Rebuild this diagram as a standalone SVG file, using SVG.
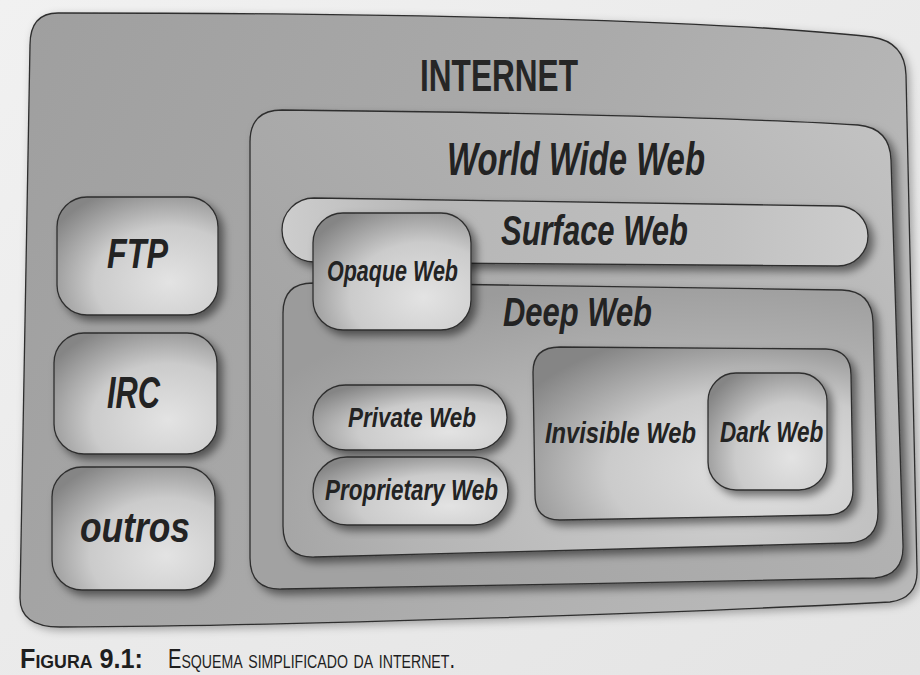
<svg xmlns="http://www.w3.org/2000/svg" width="920" height="675" viewBox="0 0 920 675">
  <defs>
    <linearGradient id="paper" x1="0" y1="0" x2="1" y2="1">
      <stop offset="0" stop-color="#f1f1f1"/>
      <stop offset="1" stop-color="#e4e4e4"/>
    </linearGradient>
    <linearGradient id="gInternet" x1="0" y1="0" x2="1" y2="0.3">
      <stop offset="0" stop-color="#9f9f9f"/>
      <stop offset="0.6" stop-color="#aaaaaa"/>
      <stop offset="1" stop-color="#b8b8b8"/>
    </linearGradient>
    <linearGradient id="gWWW" x1="0" y1="0.6" x2="1" y2="0">
      <stop offset="0" stop-color="#a2a2a2"/>
      <stop offset="0.6" stop-color="#b2b2b2"/>
      <stop offset="1" stop-color="#c4c4c4"/>
    </linearGradient>
    <linearGradient id="gSurface" x1="0" y1="0" x2="1" y2="0">
      <stop offset="0" stop-color="#cdcdcd"/>
      <stop offset="0.25" stop-color="#b6b6b6"/>
      <stop offset="0.75" stop-color="#c0c0c0"/>
      <stop offset="1" stop-color="#cdcdcd"/>
    </linearGradient>
    <radialGradient id="gDeep" cx="0.75" cy="0.85" r="0.9">
      <stop offset="0" stop-color="#cdcdcd"/>
      <stop offset="0.6" stop-color="#b4b4b4"/>
      <stop offset="1" stop-color="#9b9b9b"/>
    </radialGradient>
    <radialGradient id="gBox" cx="0.7" cy="0.72" r="0.85">
      <stop offset="0" stop-color="#e3e3e3"/>
      <stop offset="0.55" stop-color="#cbcbcb"/>
      <stop offset="1" stop-color="#858585"/>
    </radialGradient>
    <filter id="shadow" x="-10%" y="-10%" width="125%" height="130%">
      <feDropShadow dx="5" dy="5" stdDeviation="4" flood-color="#000" flood-opacity="0.5"/>
    </filter>
    <filter id="softShadow" x="-5%" y="-5%" width="115%" height="115%">
      <feDropShadow dx="3" dy="3" stdDeviation="4" flood-color="#000" flood-opacity="0.3"/>
    </filter>
  </defs>
  <style>
    .edge { stroke: #2e2e2e; stroke-width: 1.3; }
    .box { fill: url(#gBox); filter: url(#shadow); }
    .lbl { font-family: "Liberation Sans Narrow", "Liberation Sans", Arial, sans-serif; font-weight: bold; font-style: italic; fill: #232323; }
    .title { font-family: "Liberation Sans Narrow", "Liberation Sans", Arial, sans-serif; font-weight: bold; fill: #262626; }
    .cap { font-family: "Liberation Sans Narrow", "Liberation Sans", Arial, sans-serif; font-variant: small-caps; font-size: 27px; fill: #1e1e1e; }
  </style>

  <!-- page -->
  <rect x="0" y="0" width="920" height="675" fill="url(#paper)"/>

  <!-- Internet container -->
  <g id="internet">
    <path class="edge" fill="url(#gInternet)" filter="url(#softShadow)"
          d="M 58,13 C 400,13 720,20 872,37 Q 905,42 906,75 L 917,570 Q 918,598 890,602 C 700,612 300,626 60,627 Q 20,627 20,598 L 30,45 Q 30,13 58,13 Z"/>
    <text class="title" x="420" y="91" font-size="44" textLength="158" lengthAdjust="spacingAndGlyphs">INTERNET</text>
  </g>

  <!-- World Wide Web -->
  <g id="www">
    <path class="edge" fill="url(#gWWW)" filter="url(#shadow)"
          d="M 282,110 C 500,112 750,118 858,125 Q 890,128 891,160 L 903,545 Q 904,575 875,578 C 700,582 450,586 282,589 Q 250,590 250,558 L 250,142 Q 250,110 282,110 Z"/>
    <text class="lbl" x="447" y="175" font-size="46" textLength="258" lengthAdjust="spacingAndGlyphs">World Wide Web</text>
  </g>

  <!-- Surface Web -->
  <g id="surface-web">
    <path class="edge" fill="url(#gSurface)" filter="url(#shadow)"
          d="M 314,198 L 838,206 A 30,30 0 0 1 838,266 L 314,262 A 32,32 0 0 1 314,198 Z"/>
    <text class="lbl" x="501" y="245" font-size="43" textLength="187" lengthAdjust="spacingAndGlyphs">Surface Web</text>
  </g>

  <!-- Deep Web -->
  <g id="deep-web">
    <path class="edge" fill="url(#gDeep)" filter="url(#shadow)"
          d="M 313,283 C 500,284 700,287 842,290 Q 872,291 873,322 L 878,512 Q 878,542 848,543 C 700,547 500,552 315,557 Q 283,558 283,526 L 283,313 Q 283,283 313,283 Z"/>
    <text class="lbl" x="503" y="326" font-size="41" textLength="149" lengthAdjust="spacingAndGlyphs">Deep Web</text>
  </g>

  <!-- Private Web -->
  <g id="private-web">
    <rect class="box edge" x="313" y="385" width="194" height="65" rx="32.5"/>
    <text class="lbl" x="348" y="427" font-size="28" textLength="128" lengthAdjust="spacingAndGlyphs">Private Web</text>
  </g>

  <!-- Proprietary Web -->
  <g id="proprietary-web">
    <rect class="box edge" x="313" y="457" width="195" height="68" rx="34"/>
    <text class="lbl" x="325" y="500" font-size="29" textLength="173" lengthAdjust="spacingAndGlyphs">Proprietary Web</text>
  </g>

  <!-- Invisible Web -->
  <g id="invisible-web">
    <path class="box edge"
          d="M 560,347 L 826,349 Q 851,350 851,375 L 853,490 Q 853,514 828,515 L 560,520 Q 535,520 535,495 L 533,372 Q 533,347 560,347 Z"/>
    <text class="lbl" transform="translate(545,443) scale(0.79,1)" x="0" y="0" font-size="30">Invisible Web</text>
  </g>

  <!-- Dark Web -->
  <g id="dark-web">
    <rect class="box edge" x="708" y="373" width="119" height="117" rx="28"/>
    <text class="lbl" transform="translate(720,442) scale(0.75,1)" x="0" y="0" font-size="30">Dark Web</text>
  </g>

  <!-- Opaque Web (overlaps Surface and Deep Web) -->
  <g id="opaque-web">
    <rect class="box edge" x="313" y="213" width="158" height="117" rx="30"/>
    <text class="lbl" x="327" y="281" font-size="29" textLength="131" lengthAdjust="spacingAndGlyphs">Opaque Web</text>
  </g>

  <!-- other protocols -->
  <g id="ftp">
    <rect class="box edge" x="57" y="197" width="161" height="118" rx="30"/>
    <text class="lbl" x="107" y="268" font-size="43" textLength="61" lengthAdjust="spacingAndGlyphs">FTP</text>
  </g>
  <g id="irc">
    <rect class="box edge" x="54" y="333" width="163" height="121" rx="30"/>
    <text class="lbl" x="107" y="408" font-size="44" textLength="53" lengthAdjust="spacingAndGlyphs">IRC</text>
  </g>
  <g id="outros">
    <rect class="box edge" x="52" y="467" width="163" height="123" rx="30"/>
    <text class="lbl" x="80" y="542" font-size="42" textLength="110" lengthAdjust="spacingAndGlyphs">outros</text>
  </g>

  <!-- no connectors: nesting shows the relations -->
  <g id="connectors"/>

  <!-- caption -->
  <g id="caption">
    <text class="cap" x="20" y="668" font-weight="bold" textLength="123" lengthAdjust="spacingAndGlyphs">Figura 9.1:</text>
    <text class="cap" x="168" y="668" textLength="287" lengthAdjust="spacingAndGlyphs">Esquema simplificado da internet.</text>
  </g>
</svg>
